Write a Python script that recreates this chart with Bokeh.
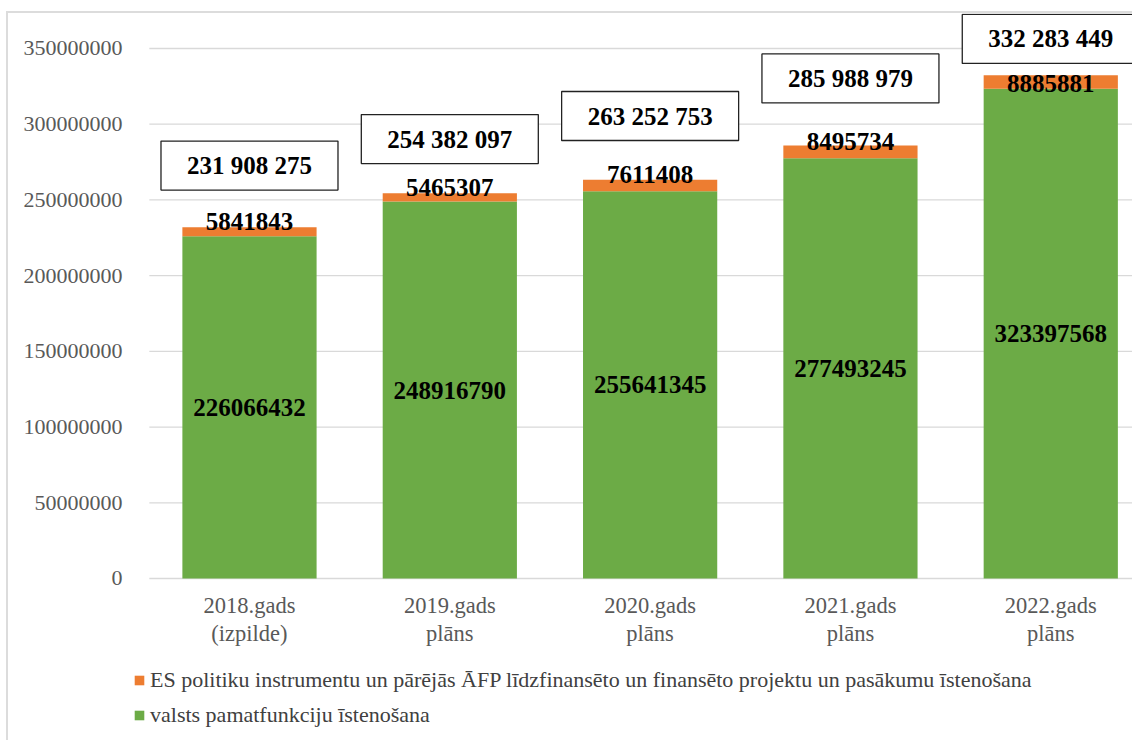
from bokeh.plotting import figure
from bokeh.models import (Range1d, FixedTicker, Legend, LegendItem, ColumnDataSource)
from bokeh.core.properties import value
from bokeh.embed import file_html
from bokeh.resources import INLINE

# ---- data ----
categories = ["2018.gads\n(izpilde)", "2019.gads\nplāns", "2020.gads\nplāns",
              "2021.gads\nplāns", "2022.gads\nplāns"]
valsts = [226066432, 248916790, 255641345, 277493245, 323397568]
es_proj = [5841843, 5465307, 7611408, 8495734, 8885881]
series_names = ["ES politiku instrumentu un pārējās ĀFP līdzfinansēto un finansēto projektu un pasākumu īstenošana",
                "valsts pamatfunkciju īstenošana"]
y_ticks = [0, 50000000, 100000000, 150000000, 200000000, 250000000, 300000000, 350000000]

# ---- style / placement ----
box_y = [272.7e6, 290.2e6, 305.4e6, 330.2e6, 356.3e6]   # total-box centres
top_label_offset = [-6, -6, -5, -4, 8]
SERIF = "Liberation Serif"
GREEN = "#6cab46"
ORANGE = "#ed7d31"
GRAY_TXT = "#595959"
GRID = "#d9d9d9"

xs = list(range(len(categories)))
totals = [a + b for a, b in zip(valsts, es_proj)]
src = ColumnDataSource(dict(
    x=xs, valsts=valsts, es=es_proj, total=totals,
    mid=[v / 2 for v in valsts],
    valsts_lbl=[str(v) for v in valsts],
    es_lbl=[str(v) for v in es_proj],
    tot_lbl=[f"{t:,}".replace(",", " ") for t in totals],
    box_y=box_y, off=top_label_offset,
    cat=categories, zero=[0] * len(xs),
))

p = figure(width=1126, height=729, output_backend="svg", toolbar_location=None,
           x_range=Range1d(-0.594, 4.418), y_range=Range1d(-108.3e6, 373.1e6),
           x_axis_location=None,
           min_border_left=122, min_border_right=0, min_border_top=0,
           min_border_bottom=0)
p.styles = {"margin-left": "6px", "margin-top": "11px",
            "border-left": "2px solid #dcdcdc", "border-top": "2px solid #dcdcdc"}
p.outline_line_color = None
p.background_fill_color = "white"
p.xgrid.grid_line_color = None
p.ygrid.grid_line_color = None

# horizontal gridlines at the tick values
p.segment(x0=-0.5, x1=4.6, y0=y_ticks, y1=y_ticks, line_color=GRID,
          line_width=1.3, level="underlay")

g = p.vbar(x="x", top="valsts", bottom=0, width=0.67, source=src,
           fill_color=GREEN, line_color=None)
o = p.vbar(x="x", top="total", bottom="valsts", width=0.67, source=src,
           fill_color=ORANGE, line_color=None)

# value labels
p.text(x="x", y="mid", text="valsts_lbl", source=src, text_align="center",
       text_baseline="middle", text_font=value(SERIF), text_font_size="25px",
       text_font_style="bold", text_color="black")
p.text(x="x", y="total", text="es_lbl", source=src, text_align="center",
       text_baseline="middle", y_offset="off", text_font=value(SERIF),
       text_font_size="25px", text_font_style="bold", text_color="black")

# total boxes
p.rect(x="x", y="box_y", width=177, height=49, width_units="screen",
       height_units="screen", source=src, fill_color="white",
       line_color="#222222", line_width=1.3)
p.text(x="x", y="box_y", text="tot_lbl", source=src, text_align="center",
       text_baseline="middle", text_font=value(SERIF), text_font_size="25px",
       text_font_style="bold", text_color="black")

# category labels under the bars
p.text(x="x", y="zero", text="cat", source=src, text_align="center",
       text_baseline="middle", y_offset=41, text_font=value(SERIF),
       text_font_size="22.5px", text_line_height=1.1, text_color=GRAY_TXT)

# y axis
p.yaxis.ticker = FixedTicker(ticks=y_ticks)
p.yaxis.major_label_overrides = {t: str(t) for t in y_ticks}
p.yaxis.major_tick_line_color = None
p.yaxis.minor_tick_line_color = None
p.yaxis.axis_line_color = None
p.yaxis.major_label_standoff = 2
p.yaxis.major_label_text_font = SERIF
p.yaxis.major_label_text_font_size = "22px"
p.yaxis.major_label_text_color = GRAY_TXT

legend = Legend(items=[LegendItem(label=series_names[0], renderers=[o]),
                       LegendItem(label=series_names[1], renderers=[g])],
                location=(3, 14), orientation="vertical",
                label_text_font=SERIF, label_text_font_size="22px",
                label_text_color="#404040", glyph_width=12, glyph_height=12,
                label_height=25, spacing=9, label_standoff=5, padding=0,
                margin=0, border_line_color=None, background_fill_alpha=0)
p.add_layout(legend, "center")

open("out.html", "w").write(file_html(p, INLINE))
